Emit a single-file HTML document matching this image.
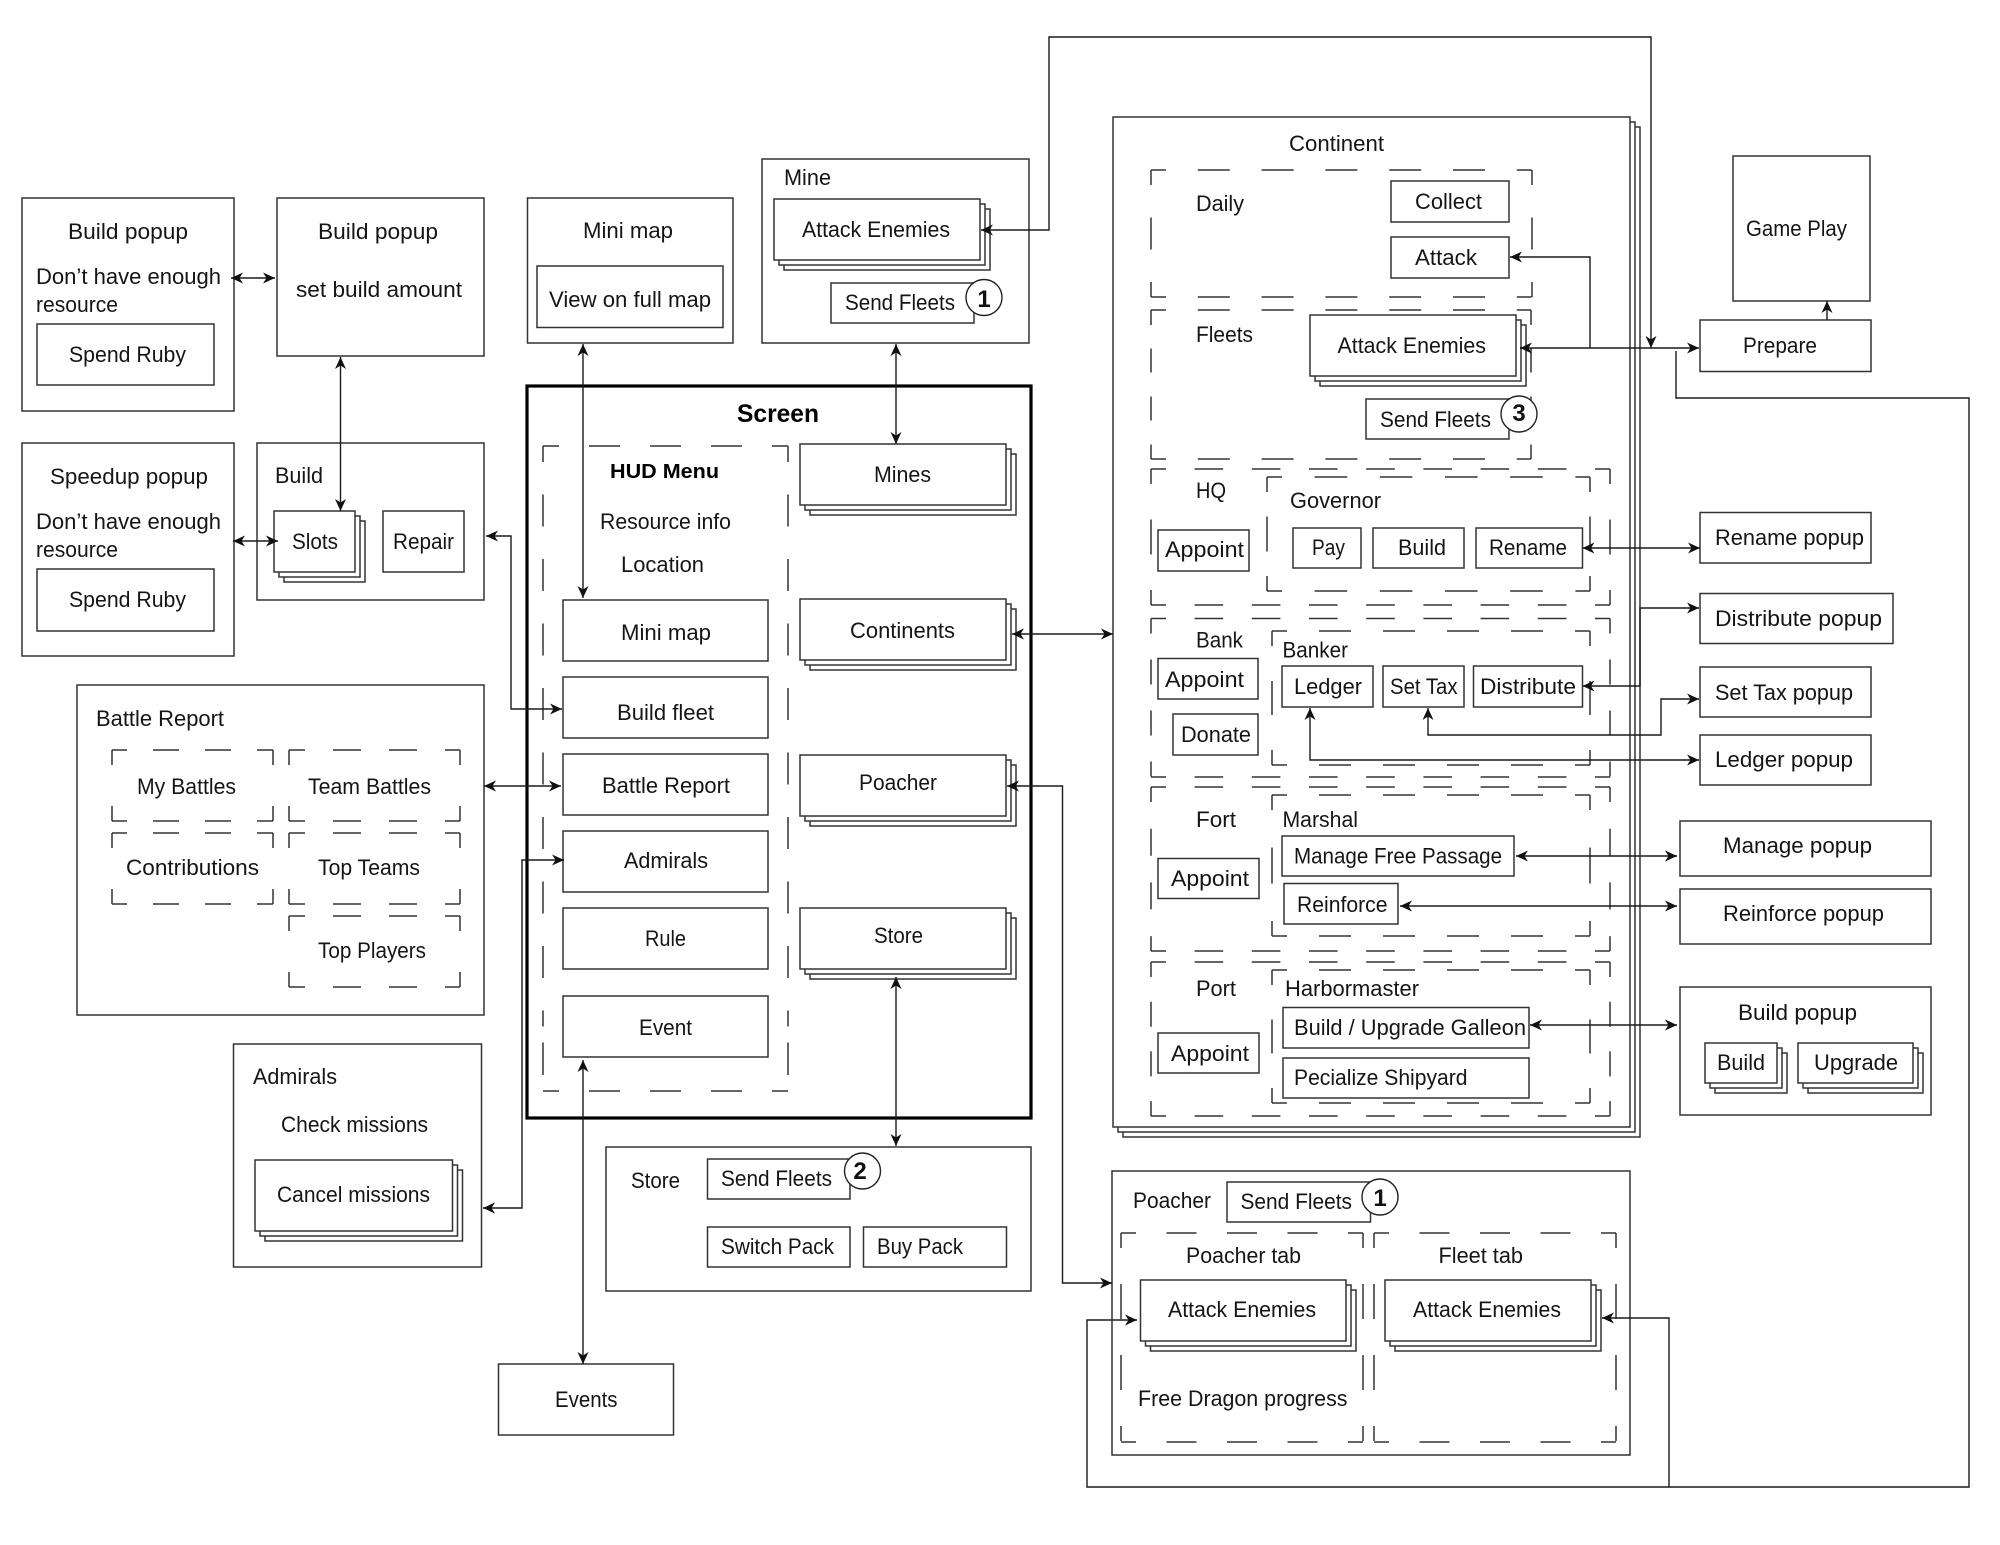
<!DOCTYPE html>
<html lang="en"><head><meta charset="utf-8"><title>Game UI flow diagram</title>
<style>
html,body{margin:0;padding:0;background:#fff}
svg{display:block}
.b rect{fill:#fff;stroke:#333;stroke-width:1.5}
.d path{fill:none;stroke:#333;stroke-width:1.5}
.a path{fill:none;stroke:#1a1a1a;stroke-width:1.4;marker-start:url(#m);marker-end:url(#m)}
.a path.e{marker-start:none}
.a path.n{marker:none}
text{font-family:"Liberation Sans",sans-serif;font-size:22px;fill:#151515}
.c{fill:#fff;stroke:#222;stroke-width:1.4}
.n{font-weight:bold;font-size:24px;text-anchor:middle;fill:#111}
</style></head><body>
<svg xmlns="http://www.w3.org/2000/svg" width="2000" height="1545" viewBox="0 0 2000 1545">
<defs><marker id="m" markerUnits="userSpaceOnUse" markerWidth="16" markerHeight="14" refX="13" refY="7" orient="auto-start-reverse"><path d="M13 7L1 1.5L4.5 7L1 12.5Z" fill="#111"/></marker></defs>
<rect width="2000" height="1545" fill="#fff"/>
<g class="b">
<rect x="22" y="198" width="212" height="213"/><rect x="37" y="324" width="177" height="61"/>
<rect x="277" y="198" width="207" height="158"/>
<rect x="22" y="443" width="212" height="213"/><rect x="37" y="569" width="177" height="62"/>
<rect x="257" y="443" width="227" height="157"/>
<rect x="284" y="521" width="81" height="61"/><rect x="279" y="516" width="81" height="61"/><rect x="274" y="511" width="81" height="61"/>
<rect x="383" y="511" width="81" height="61"/>
<rect x="527.5" y="198" width="205.500" height="145"/><rect x="537" y="266" width="186" height="61.500"/>
<rect x="762" y="159" width="267" height="184"/>
<rect x="784" y="209" width="206" height="61"/><rect x="779" y="204" width="206" height="61"/><rect x="774" y="199" width="206" height="61"/>
<rect x="831" y="283" width="143" height="40"/>
<rect x="77" y="685" width="407" height="330"/>
<rect x="233.500" y="1044" width="248" height="223"/>
<rect x="265" y="1170" width="197.500" height="71"/><rect x="260" y="1165" width="197.500" height="71"/><rect x="255" y="1160" width="197.500" height="71"/>
<rect x="606" y="1147" width="425" height="144"/>
<rect x="707.500" y="1159" width="142.500" height="40"/><rect x="707.500" y="1227" width="142.500" height="40"/><rect x="863.500" y="1227" width="143" height="40"/>
<rect x="498.500" y="1364" width="175" height="71"/>
<rect x="527" y="386" width="504" height="732" style="stroke:#000;stroke-width:3.200"/>
<rect x="563" y="600" width="205" height="61"/><rect x="563" y="677" width="205" height="61"/><rect x="563" y="754" width="205" height="61"/><rect x="563" y="831" width="205" height="61"/><rect x="563" y="908" width="205" height="61"/><rect x="563" y="996" width="205" height="61"/>
<rect x="810" y="454" width="206" height="61"/><rect x="805" y="449" width="206" height="61"/><rect x="800" y="444" width="206" height="61"/>
<rect x="810" y="609" width="206" height="61"/><rect x="805" y="604" width="206" height="61"/><rect x="800" y="599" width="206" height="61"/>
<rect x="810" y="765" width="206" height="61"/><rect x="805" y="760" width="206" height="61"/><rect x="800" y="755" width="206" height="61"/>
<rect x="810" y="918" width="206" height="61"/><rect x="805" y="913" width="206" height="61"/><rect x="800" y="908" width="206" height="61"/>
<rect x="1123" y="127" width="517" height="1010"/><rect x="1118" y="122" width="517" height="1010"/><rect x="1113" y="117" width="517" height="1010"/>
<rect x="1733" y="156" width="137" height="145"/><rect x="1700" y="320" width="171" height="51.500"/>
<rect x="1700" y="512.500" width="171" height="50.500"/><rect x="1700" y="593.500" width="193" height="50"/><rect x="1700" y="667" width="171" height="50"/><rect x="1700" y="735" width="171" height="50"/>
<rect x="1680" y="821" width="251" height="55"/><rect x="1680" y="889" width="251" height="55"/><rect x="1680" y="987" width="251" height="128"/>
<rect x="1715" y="1053" width="72" height="40"/><rect x="1710" y="1048" width="72" height="40"/><rect x="1705" y="1043" width="72" height="40"/>
<rect x="1808" y="1053" width="115" height="40"/><rect x="1803" y="1048" width="115" height="40"/><rect x="1798" y="1043" width="115" height="40"/>
<rect x="1112" y="1171" width="518" height="284"/>
</g>
<g class="d">
<path d="M112 750H273M112 821H273M112 833H273M112 904H273" stroke-dasharray="15 26 26 26 26 26 16"/>
<path d="M112 750V821M273 750V821M112 833V904M273 833V904" stroke-dasharray="15 41 15"/>
<path d="M289 750H460M289 821H460M289 833H460M289 904H460M289 916H460M289 987H460" stroke-dasharray="16 28 28 28 28 28 15"/>
<path d="M289 750V821M460 750V821M289 833V904M460 833V904M289 916V987M460 916V987" stroke-dasharray="15 41 15"/>
<path d="M543 446H788M543 1091H788" stroke-dasharray="16 30 31 30 31 30 31 30 16"/>
<path d="M543 446V1091M788 446V1091" stroke-dasharray="16 32.5 32 32.5 32 32.5 32 32.5 32 32.5 32 32.5 32 32.5 32 32.5 32 32.5 16"/>
<path d="M1151 170H1532M1151 297H1532M1151 310H1531M1151 459H1531" stroke-dasharray="15 31.8 32 31.8 32 31.8 32 31.8 32 31.8 32 31.8 15"/>
<path d="M1151 170V297M1532 170V297" stroke-dasharray="15 32.5 32 32.5 15"/>
<path d="M1151 310V459M1531 310V459" stroke-dasharray="15 23.5 24 24 24 24 15"/>
<path d="M1151 469H1610M1151 605H1610M1151 618.500H1610M1151 777H1610M1151 787H1610M1151 951H1610M1151 962H1610M1151 1116H1610" stroke-dasharray="15 28.6 28.6 28.6 28.6 28.6 28.6 28.6 28.6 28.6 28.6 28.6 28.6 28.6 28.6 28.6 15"/>
<path d="M1151 469V605M1610 469V605" stroke-dasharray="15 35.5 35 35.5 15"/>
<path d="M1151 618.500V777M1610 618.500V777" stroke-dasharray="15 26 25 26 25 26 15"/>
<path d="M1151 787V951M1610 787V951" stroke-dasharray="15 26.700 27 26.700 27 26.700 15"/>
<path d="M1151 962V1116M1610 962V1116" stroke-dasharray="15 24.700 25 24.700 25 24.700 15"/>
<path d="M1267 477H1590M1267 591H1590" stroke-dasharray="15 32.6 32.6 32.6 32.6 32.6 32.6 32.6 32.6 32.6 15"/>
<path d="M1267 477V591M1590 477V591" stroke-dasharray="15 24.5 35 24.5 15"/>
<path d="M1272 631H1590M1272 765H1590M1272 795H1590M1272 936H1590M1272 970H1590M1272 1103H1590" stroke-dasharray="15 32 32 32 32 32 32 32 32 32 15"/>
<path d="M1272 631V765M1590 631V765" stroke-dasharray="15 35 34 35 15"/>
<path d="M1272 795V936M1590 795V936" stroke-dasharray="15 37.5 36 37.5 15"/>
<path d="M1272 970V1103M1590 970V1103" stroke-dasharray="15 34.5 34 34.5 15"/>
<path d="M1121 1233H1363M1121 1442H1363M1374 1233H1616M1374 1442H1616" stroke-dasharray="15 30.5 30 30.5 30 30.5 30 30.5 15"/>
<path d="M1121 1233V1442M1363 1233V1442M1374 1233V1442M1616 1233V1442" stroke-dasharray="15 36 35 36 35 36 15"/>
</g>
<g class="b">
<rect x="1391" y="181" width="118" height="41"/><rect x="1391" y="237" width="118" height="41"/>
<rect x="1320" y="325" width="206" height="61"/><rect x="1315" y="320" width="206" height="61"/><rect x="1310" y="315" width="206" height="61"/>
<rect x="1366" y="399" width="143" height="40"/>
<rect x="1158" y="530" width="91" height="41"/><rect x="1293" y="528" width="68" height="40"/><rect x="1373" y="528" width="91" height="40"/><rect x="1476" y="528" width="106.500" height="40"/>
<rect x="1158" y="658.500" width="100" height="40.500"/><rect x="1173" y="714" width="85" height="41"/>
<rect x="1282" y="666" width="91" height="41"/><rect x="1383" y="666" width="81" height="41"/><rect x="1473.500" y="666" width="109" height="41"/>
<rect x="1158" y="858.500" width="101" height="40"/><rect x="1282" y="836" width="232" height="40"/><rect x="1284" y="883.500" width="114" height="40.500"/>
<rect x="1158" y="1033" width="101" height="40"/><rect x="1283" y="1007.500" width="246" height="40.500"/><rect x="1283" y="1058" width="246" height="40"/>
<rect x="1227" y="1182" width="143.500" height="40"/>
<rect x="1150.500" y="1290" width="205.500" height="61"/><rect x="1145.500" y="1285" width="205.500" height="61"/><rect x="1140.500" y="1280" width="205.500" height="61"/>
<rect x="1395" y="1290" width="206" height="61"/><rect x="1390" y="1285" width="206" height="61"/><rect x="1385" y="1280" width="206" height="61"/>
</g>
<circle class="c" cx="984" cy="297.500" r="18"/><circle class="c" cx="862.500" cy="1171" r="18"/><circle class="c" cx="1519" cy="414" r="18"/><circle class="c" cx="1380" cy="1197" r="18"/>
<g class="a">
<path d="M231 278H275"/><path d="M340.500 357V511"/><path d="M233 541H278"/>
<path d="M486 536H511V709H562"/><path d="M484 786H561"/><path d="M483 1208H522V860H564"/>
<path d="M583 344V598"/><path d="M896 344V444"/><path d="M1012 634H1113"/><path d="M896 977V1146"/><path d="M583 1060V1364"/>
<path d="M1007 786H1062.500V1283H1112"/><path d="M981 230H1049V37H1651V348"/>
<path class="e" d="M1590 348V257H1510"/><path d="M1520 348H1699"/><path class="e" d="M1827 320V301"/>
<path class="e" d="M1676 351V398H1969V1487H1087V1320H1137"/><path class="e" d="M1669 1487V1318H1602"/>
<path d="M1582.500 548H1700"/><path d="M1582.500 686H1640V608H1699"/><path d="M1428 708V735H1661V699H1699"/><path d="M1310 708V760H1699"/>
<path d="M1516 856H1677"/><path d="M1400 906H1677"/><path d="M1530 1025H1677"/>
</g>
<g lengthAdjust="spacingAndGlyphs">
<text x="68" y="239" textLength="120" lengthAdjust="spacingAndGlyphs">Build popup</text>
<text x="36" y="284" textLength="185" lengthAdjust="spacingAndGlyphs">Don’t have enough</text>
<text x="36" y="312" textLength="82" lengthAdjust="spacingAndGlyphs">resource</text>
<text x="69" y="362" textLength="117" lengthAdjust="spacingAndGlyphs">Spend Ruby</text>
<text x="318" y="239" textLength="120" lengthAdjust="spacingAndGlyphs">Build popup</text>
<text x="296" y="297" textLength="166" lengthAdjust="spacingAndGlyphs">set build amount</text>
<text x="50" y="484" textLength="158" lengthAdjust="spacingAndGlyphs">Speedup popup</text>
<text x="36" y="529" textLength="185" lengthAdjust="spacingAndGlyphs">Don’t have enough</text>
<text x="36" y="557" textLength="82" lengthAdjust="spacingAndGlyphs">resource</text>
<text x="69" y="607" textLength="117" lengthAdjust="spacingAndGlyphs">Spend Ruby</text>
<text x="275" y="483" textLength="48" lengthAdjust="spacingAndGlyphs">Build</text>
<text x="292" y="549" textLength="46" lengthAdjust="spacingAndGlyphs">Slots</text>
<text x="393" y="549" textLength="61" lengthAdjust="spacingAndGlyphs">Repair</text>
<text x="583" y="238" textLength="90" lengthAdjust="spacingAndGlyphs">Mini map</text>
<text x="549" y="307" textLength="162" lengthAdjust="spacingAndGlyphs">View on full map</text>
<text x="784" y="185" textLength="47" lengthAdjust="spacingAndGlyphs">Mine</text>
<text x="802" y="237" textLength="148" lengthAdjust="spacingAndGlyphs">Attack Enemies</text>
<text x="845" y="310" textLength="110" lengthAdjust="spacingAndGlyphs">Send Fleets</text>
<text class="n" x="984" y="307">1</text>
<text x="737" y="422" textLength="82" lengthAdjust="spacingAndGlyphs" style="font-weight:bold;font-size:25px;fill:#000">Screen</text>
<text x="610" y="478" textLength="109" lengthAdjust="spacingAndGlyphs" style="font-weight:bold;font-size:20px;fill:#000">HUD Menu</text>
<text x="600" y="529" textLength="131" lengthAdjust="spacingAndGlyphs">Resource info</text>
<text x="621" y="572" textLength="83" lengthAdjust="spacingAndGlyphs">Location</text>
<text x="621" y="640" textLength="90" lengthAdjust="spacingAndGlyphs">Mini map</text>
<text x="617" y="720" textLength="97" lengthAdjust="spacingAndGlyphs">Build fleet</text>
<text x="602" y="793" textLength="128" lengthAdjust="spacingAndGlyphs">Battle Report</text>
<text x="624" y="868" textLength="84" lengthAdjust="spacingAndGlyphs">Admirals</text>
<text x="645" y="946" textLength="41" lengthAdjust="spacingAndGlyphs">Rule</text>
<text x="639" y="1035" textLength="53" lengthAdjust="spacingAndGlyphs">Event</text>
<text x="874" y="482" textLength="57" lengthAdjust="spacingAndGlyphs">Mines</text>
<text x="850" y="638" textLength="105" lengthAdjust="spacingAndGlyphs">Continents</text>
<text x="859" y="790" textLength="78" lengthAdjust="spacingAndGlyphs">Poacher</text>
<text x="874" y="943" textLength="49" lengthAdjust="spacingAndGlyphs">Store</text>
<text x="96" y="726" textLength="128" lengthAdjust="spacingAndGlyphs">Battle Report</text>
<text x="137" y="794" textLength="99" lengthAdjust="spacingAndGlyphs">My Battles</text>
<text x="308" y="794" textLength="123" lengthAdjust="spacingAndGlyphs">Team Battles</text>
<text x="126" y="875" textLength="133" lengthAdjust="spacingAndGlyphs">Contributions</text>
<text x="318" y="875" textLength="102" lengthAdjust="spacingAndGlyphs">Top Teams</text>
<text x="318" y="958" textLength="108" lengthAdjust="spacingAndGlyphs">Top Players</text>
<text x="253" y="1084" textLength="84" lengthAdjust="spacingAndGlyphs">Admirals</text>
<text x="281" y="1132" textLength="147" lengthAdjust="spacingAndGlyphs">Check missions</text>
<text x="277" y="1202" textLength="153" lengthAdjust="spacingAndGlyphs">Cancel missions</text>
<text x="555" y="1407" textLength="62.500" lengthAdjust="spacingAndGlyphs">Events</text>
<text x="631" y="1188" textLength="49" lengthAdjust="spacingAndGlyphs">Store</text>
<text x="721" y="1186" textLength="111" lengthAdjust="spacingAndGlyphs">Send Fleets</text>
<text class="n" x="860" y="1179">2</text>
<text x="721" y="1254" textLength="113" lengthAdjust="spacingAndGlyphs">Switch Pack</text>
<text x="877" y="1254" textLength="86" lengthAdjust="spacingAndGlyphs">Buy Pack</text>
<text x="1289" y="151" textLength="95" lengthAdjust="spacingAndGlyphs">Continent</text>
<text x="1196" y="211" textLength="48" lengthAdjust="spacingAndGlyphs">Daily</text>
<text x="1415" y="209" textLength="67" lengthAdjust="spacingAndGlyphs">Collect</text>
<text x="1415" y="265" textLength="62" lengthAdjust="spacingAndGlyphs">Attack</text>
<text x="1196" y="342" textLength="57" lengthAdjust="spacingAndGlyphs">Fleets</text>
<text x="1337.500" y="353" textLength="148.500" lengthAdjust="spacingAndGlyphs">Attack Enemies</text>
<text x="1380" y="427" textLength="111" lengthAdjust="spacingAndGlyphs">Send Fleets</text>
<text class="n" x="1519" y="421">3</text>
<text x="1196" y="498" textLength="30" lengthAdjust="spacingAndGlyphs">HQ</text>
<text x="1290" y="508" textLength="91" lengthAdjust="spacingAndGlyphs">Governor</text>
<text x="1165" y="557" textLength="79" lengthAdjust="spacingAndGlyphs">Appoint</text>
<text x="1312" y="555" textLength="33" lengthAdjust="spacingAndGlyphs">Pay</text>
<text x="1398" y="555" textLength="48" lengthAdjust="spacingAndGlyphs">Build</text>
<text x="1489" y="555" textLength="78" lengthAdjust="spacingAndGlyphs">Rename</text>
<text x="1196" y="647.500" textLength="47" lengthAdjust="spacingAndGlyphs">Bank</text>
<text x="1282.500" y="657.500" textLength="65.500" lengthAdjust="spacingAndGlyphs">Banker</text>
<text x="1165" y="687" textLength="79" lengthAdjust="spacingAndGlyphs">Appoint</text>
<text x="1181" y="742" textLength="70" lengthAdjust="spacingAndGlyphs">Donate</text>
<text x="1294" y="694" textLength="68" lengthAdjust="spacingAndGlyphs">Ledger</text>
<text x="1390" y="694" textLength="67.500" lengthAdjust="spacingAndGlyphs">Set Tax</text>
<text x="1480" y="694" textLength="96" lengthAdjust="spacingAndGlyphs">Distribute</text>
<text x="1196" y="827" textLength="40" lengthAdjust="spacingAndGlyphs">Fort</text>
<text x="1282.500" y="827" textLength="75.500" lengthAdjust="spacingAndGlyphs">Marshal</text>
<text x="1171" y="886" textLength="78" lengthAdjust="spacingAndGlyphs">Appoint</text>
<text x="1294" y="863.500" textLength="208" lengthAdjust="spacingAndGlyphs">Manage Free Passage</text>
<text x="1297" y="912" textLength="90.500" lengthAdjust="spacingAndGlyphs">Reinforce</text>
<text x="1196" y="996" textLength="40" lengthAdjust="spacingAndGlyphs">Port</text>
<text x="1285" y="996" textLength="134" lengthAdjust="spacingAndGlyphs">Harbormaster</text>
<text x="1171" y="1061" textLength="78" lengthAdjust="spacingAndGlyphs">Appoint</text>
<text x="1294" y="1035" textLength="232" lengthAdjust="spacingAndGlyphs">Build / Upgrade Galleon</text>
<text x="1294" y="1085" textLength="173.500" lengthAdjust="spacingAndGlyphs">Pecialize Shipyard</text>
<text x="1746" y="236" textLength="101" lengthAdjust="spacingAndGlyphs">Game Play</text>
<text x="1743" y="353" textLength="74" lengthAdjust="spacingAndGlyphs">Prepare</text>
<text x="1715" y="545" textLength="149" lengthAdjust="spacingAndGlyphs">Rename popup</text>
<text x="1715" y="626" textLength="167" lengthAdjust="spacingAndGlyphs">Distribute popup</text>
<text x="1715" y="700" textLength="138" lengthAdjust="spacingAndGlyphs">Set Tax popup</text>
<text x="1715" y="767" textLength="138" lengthAdjust="spacingAndGlyphs">Ledger popup</text>
<text x="1723" y="853" textLength="149" lengthAdjust="spacingAndGlyphs">Manage popup</text>
<text x="1723" y="921" textLength="161" lengthAdjust="spacingAndGlyphs">Reinforce popup</text>
<text x="1738" y="1020" textLength="119" lengthAdjust="spacingAndGlyphs">Build popup</text>
<text x="1717" y="1070" textLength="48" lengthAdjust="spacingAndGlyphs">Build</text>
<text x="1814" y="1070" textLength="84" lengthAdjust="spacingAndGlyphs">Upgrade</text>
<text x="1133" y="1208" textLength="78" lengthAdjust="spacingAndGlyphs">Poacher</text>
<text x="1240.500" y="1209" textLength="111.500" lengthAdjust="spacingAndGlyphs">Send Fleets</text>
<text class="n" x="1380" y="1206">1</text>
<text x="1186" y="1263" textLength="115" lengthAdjust="spacingAndGlyphs">Poacher tab</text>
<text x="1438.500" y="1263" textLength="84.500" lengthAdjust="spacingAndGlyphs">Fleet tab</text>
<text x="1168" y="1317" textLength="148" lengthAdjust="spacingAndGlyphs">Attack Enemies</text>
<text x="1413" y="1317" textLength="148" lengthAdjust="spacingAndGlyphs">Attack Enemies</text>
<text x="1138" y="1406" textLength="209.500" lengthAdjust="spacingAndGlyphs">Free Dragon progress</text>
</g>
</svg>
</body></html>
